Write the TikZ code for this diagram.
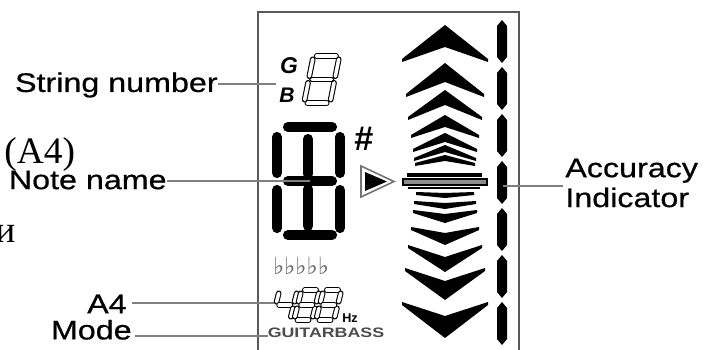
\documentclass[tikz,border=0pt]{standalone}
\usepackage{fontspec}
\setmainfont{Liberation Sans}
\newfontfamily\lblfont[FakeStretch=1.2,FakeBold=0.6]{Liberation Sans}
\newfontfamily\modefont[FakeStretch=1.3]{Liberation Sans}
\newfontfamily\serffont{Liberation Serif}
\newfontfamily\symfont{DejaVu Sans}

\tikzset{
  lbl/.style={inner sep=0pt, font=\lblfont\fontsize{15.3}{17}\selectfont},
  leader/.style={draw=black!50, line width=0.9pt},
  frame/.style={draw=black!65, line width=1.1pt},
  bigseg/.style={line width=5.8pt, line cap=round},
  lcdseg/.style={line width=0.6pt, double=white, double distance=2pt,
    line cap=round, shorten <=1.9pt, shorten >=1.9pt},
  sega/.style={insert path={(0,-\dh) -- (\dw,-\dh)}},
  segb/.style={insert path={(\dw,-\dh) -- (\dw,-\dh/2)}},
  segc/.style={insert path={(\dw,-\dh/2) -- (\dw,0)}},
  segd/.style={insert path={(0,0) -- (\dw,0)}},
  sege/.style={insert path={(0,-\dh/2) -- (0,0)}},
  segf/.style={insert path={(0,-\dh) -- (0,-\dh/2)}},
  segg/.style={insert path={(0,-\dh/2) -- (\dw,-\dh/2)}},
}

% outlined lcd digit: x, y of lower left corner, width, height, slant, segments
\newcommand{\lcddigit}[6]{%
  \begin{scope}[shift={(#1,#2)}, xslant=#5]
    \def\dw{#3}\def\dh{#4}
    \foreach \sg in {#6} {\draw[lcdseg, seg\sg];}
  \end{scope}}

\begin{document}
\begin{tikzpicture}[x=0.02cm,y=-0.02cm]
  \useasboundingbox (0,0) rectangle (705,350);

  % display frame, open at the bottom
  \draw[frame] (258,360) -- (258,12) -- (519,12) -- (519,360);

  % string number
  \node[inner sep=0pt, font=\bfseries\itshape\fontsize{13}{13}\selectfont] (gstr) at (289,66) {G};
  \node[inner sep=0pt, font=\bfseries\itshape\fontsize{12}{12}\selectfont] (bstr) at (287,95) {B};
  \lcddigit{304}{103}{26}{47}{0.2}{a,b,c,d,e,f,g}

  % note name
  \foreach \xa/\ya/\xb/\yb in {288/127/332/127, 277/137/277/173, 340/137/340/173,
                     308/139/308/174, 288/181/332/181, 277/190/277/228,
                     340/190/340/228, 308/189/308/226, 288/235/332/235}
    \draw[bigseg] (\xa,\ya) -- (\xb,\yb);
  \node[inner sep=0pt, font=\bfseries\fontsize{19.5}{19.5}\selectfont] (sharp) at (364,139) {\#};

  % pointer
  \draw[black!55, line width=0.9pt] (361,166) -- (394,181.5) -- (361,197) -- cycle;
  \fill (365,172) -- (387,181.5) -- (365,191) -- cycle;

  \node[inner sep=0pt, text=black!60, font=\symfont\fontsize{13.5}{13.5}\selectfont] (flats) at (301,266) {♭♭♭♭♭};

  % reference pitch
  \lcddigit{272}{320}{18}{30}{0.25}{f,g,b,c}
  \lcddigit{294}{320}{18}{30}{0.25}{a,b,c,d,e,f,g}
  \lcddigit{316}{320}{18}{30}{0.25}{a,b,c,d,e,f,g}
  \node[inner sep=0pt, font=\bfseries\fontsize{7.2}{7.2}\selectfont] (hz) at (350,318) {Hz};
  \node[inner sep=0pt, text=black!70, font=\modefont\bfseries\fontsize{7.8}{7.8}\selectfont] (modes) at (326,333) {GUITARBASS};

  % tuning chevrons
  \foreach \a/\b/\w/\t in {25/62/43/22, 63/97/39/19, 90/120/37/15, 115/138/34/12,
                           133/152/32/9, 145/161/31/7, 155/166/30/6}
    \fill (445,\a) -- (445+\w,\b-3) -- (445+\w,\b) -- (445,\a+\t)
      -- (445-\w,\b) -- (445-\w,\b-3) -- cycle;
  \foreach \a/\b/\w/\t in {338/302/43/22, 300/268/40/19, 272/245/37/15, 245/227/34/12,
                           223/210/32/9, 209/201/31/6, 198/192/29/5}
    \fill (445,\a) -- (445+\w,\b+3) -- (445+\w,\b) -- (445,\a-\t)
      -- (445-\w,\b) -- (445-\w,\b+3) -- cycle;
  \fill (407,173) rectangle (482,177);
  \draw[fill=black!45, line width=1.1pt] (403,179) rectangle (487,185);
  \fill (408,187) rectangle (480,189.5);

  % accuracy bar
  \foreach \y in {20,67,...,302}
    \fill (502,\y) -- (507,\y+6) -- (507,\y+37) -- (502,\y+43)
      -- (497,\y+37) -- (497,\y+6) -- cycle;

  % labels
  \node[lbl, anchor=east] (strnum) at (218,85) {String number};
  \node[lbl, anchor=east] (notename) at (167,180) {Note name};
  \node[lbl, anchor=east] (afour) at (127,304) {A4};
  \node[lbl, anchor=south east] (mode) at (132,340) {Mode};
  \node[lbl, anchor=west, align=left] (accuracy) at (565,183) {Accuracy\\Indicator};

  \node[inner sep=0pt, anchor=base west, font=\serffont\fontsize{21.3}{21.3}\selectfont] (afourru) at (4,164) {(A4)};
  \node[inner sep=0pt, anchor=base west, font=\serffont\fontsize{21.3}{21.3}\selectfont] (iru) at (-5,243) {и};

  \coordinate (sn-end) at (276,84);
  \coordinate (nn-end) at (310,181);
  \coordinate (a4-end) at (274,303);
  \coordinate (md-end) at (268,336);
  \coordinate (acc-end) at (503,186);

  \draw[leader] (strnum.east |- sn-end) -- (sn-end);
  \draw[leader] (notename.east |- nn-end) -- (nn-end);
  \draw[leader, shorten <=3pt] (afour.east |- a4-end) -- (a4-end);
  \draw[leader, shorten <=1.5pt] (mode.east |- md-end) -- (md-end);
  \draw[leader, shorten >=1pt] (acc-end) -- (acc-end -| accuracy.west);
\end{tikzpicture}
\end{document}
